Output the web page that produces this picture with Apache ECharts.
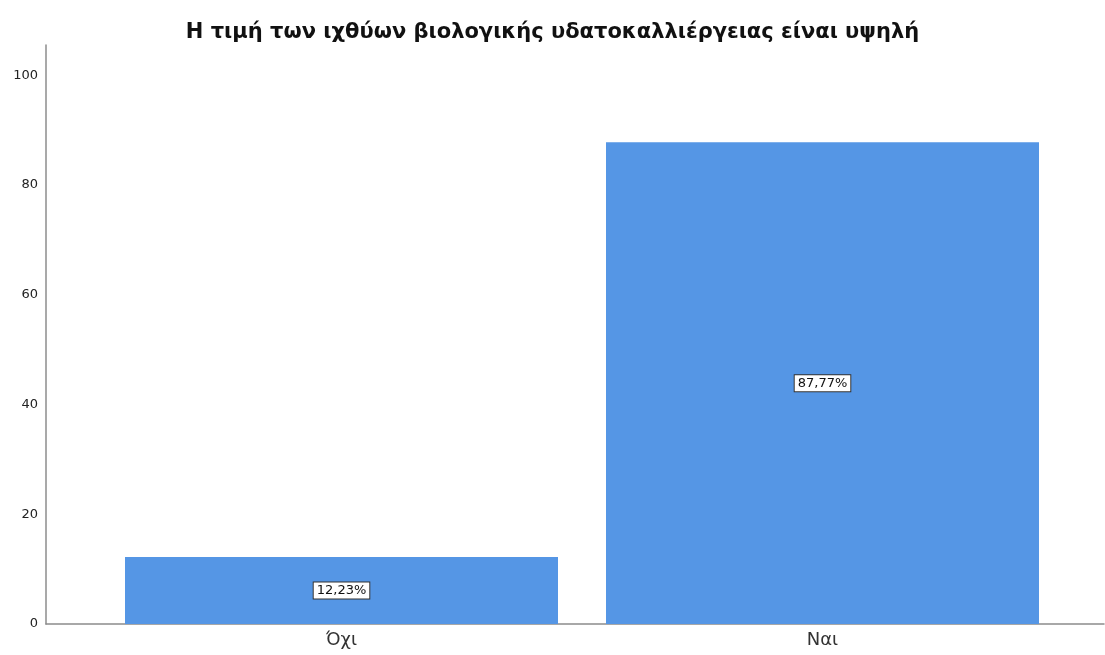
<!DOCTYPE html>
<html>
<head>
<meta charset="utf-8">
<script src="https://cdn.jsdelivr.net/npm/echarts@6/dist/echarts.min.js"></script>
<style>
  html, body { margin: 0; padding: 0; background: #fff; }
  #chart { width: 1105px; height: 655px; }
</style>
</head>
<body>
<div id="chart"></div>
<script>
// Survey answers and their shares (percent)
const chartTitle = 'Η τιμή των ιχθύων βιολογικής υδατοκαλλιέργειας είναι υψηλή';
const categories = ['Όχι', 'Ναι'];
const percents = [12.23, 87.77];
const yTicks = [0, 20, 40, 60, 80, 100];

const Y_MAX = 105.5;
const BAR_COLOR = '#5596e5';
const AXIS_COLOR = '#8c8c8c';

const chart = echarts.init(document.getElementById('chart'));

chart.setOption({
  animation: false,
  backgroundColor: '#ffffff',
  title: {
    text: chartTitle,
    left: 'center',
    top: 17,
    textStyle: {
      fontFamily: 'DejaVu Sans',
      fontSize: 21,
      fontWeight: 'bold',
      color: '#111111'
    }
  },
  grid: [
    // frame grid: carries the axis lines and the value labels
    { left: 46, right: 1, top: 45, bottom: 31 },
    // bar grid: the bars sit inset from the frame
    { left: 101, right: 42, top: 45, bottom: 31 }
  ],
  xAxis: [
    {
      gridIndex: 0,
      type: 'category',
      data: [''],
      axisLine: { lineStyle: { color: AXIS_COLOR, width: 1.5 } },
      axisTick: { show: false },
      axisLabel: { show: false }
    },
    {
      gridIndex: 1,
      type: 'category',
      data: categories,
      axisLine: { show: false },
      axisTick: { show: false },
      axisLabel: {
        fontFamily: 'DejaVu Sans',
        fontSize: 18,
        color: '#333333',
        margin: 7
      }
    }
  ],
  yAxis: [
    {
      gridIndex: 0,
      type: 'value',
      min: 0,
      max: Y_MAX,
      interval: 20,
      axisLine: { show: true, lineStyle: { color: AXIS_COLOR, width: 1.5 } },
      axisTick: { show: false },
      splitLine: { show: false },
      axisLabel: {
        showMaxLabel: false,
        fontFamily: 'DejaVu Sans',
        fontSize: 13,
        color: '#222222',
        margin: 8,
        formatter: v => (yTicks.indexOf(v) >= 0 ? String(v) : '')
      }
    },
    {
      gridIndex: 1,
      type: 'value',
      min: 0,
      max: Y_MAX,
      show: false
    }
  ],
  series: [
    {
      type: 'bar',
      xAxisIndex: 1,
      yAxisIndex: 1,
      data: percents,
      barCategoryGap: 48,
      itemStyle: { color: BAR_COLOR },
      label: {
        show: true,
        position: 'inside',
        formatter: p => p.value.toFixed(2).replace('.', ',') + '%',
        fontFamily: 'DejaVu Sans',
        fontSize: 13,
        color: '#111111',
        backgroundColor: '#ffffff',
        borderColor: '#333333',
        borderWidth: 1,
        padding: [2, 3, 1, 3]
      }
    }
  ]
});
</script>
</body>
</html>
